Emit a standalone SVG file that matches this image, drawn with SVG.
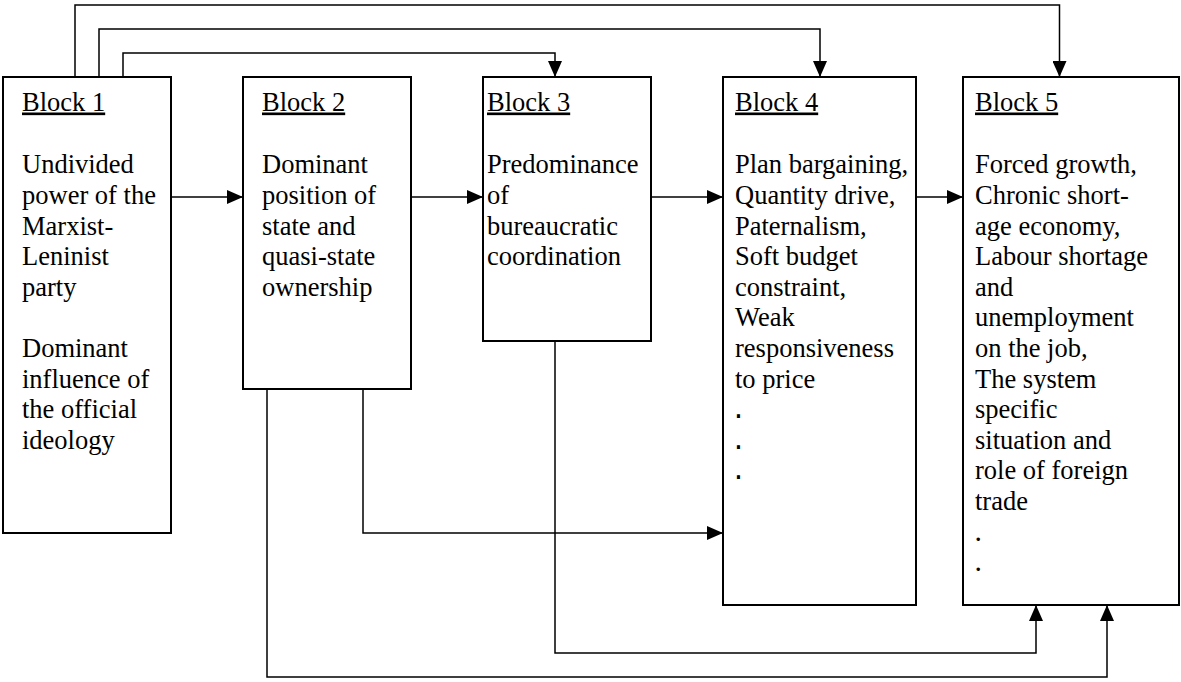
<svg xmlns="http://www.w3.org/2000/svg" width="1181" height="682" viewBox="0 0 1181 682">
<style>
.box{fill:#fff;stroke:#000;stroke-width:2}
.h{text-decoration:underline}
.c{fill:none;stroke:#000;stroke-width:1.5;marker-end:url(#ah)}
</style>
<defs>
<marker id="ah" markerUnits="userSpaceOnUse" markerWidth="16" markerHeight="14" refX="16" refY="7" orient="auto">
<path d="M0,0 L16,7 L0,14 z" fill="#000"/>
</marker>
</defs>
<rect width="1181" height="682" fill="#fff"/>
<g id="connectors">
<path class="c" d="M75,77 V5 H1059.5 V77"/>
<path class="c" d="M99,77 V29 H820 V77"/>
<path class="c" d="M123,77 V53 H555 V77"/>
<path class="c" d="M171,197 H243"/>
<path class="c" d="M411,197 H483"/>
<path class="c" d="M651,197 H723"/>
<path class="c" d="M916,197 H963"/>
<path class="c" d="M363,389 V533 H723"/>
<path class="c" d="M555,341 V653 H1036 V605"/>
<path class="c" d="M267,389 V677 H1107 V605"/>
</g>
<g id="block1" font-family="Liberation Serif" font-size="26.5" fill="#000">
<rect class="box" x="3" y="77" width="168" height="456"/>
<text class="h" x="22" y="110.5">Block 1</text>
<text x="22" y="173.3">Undivided</text>
<text x="22" y="203.9">power of the</text>
<text x="22" y="234.5">Marxist-</text>
<text x="22" y="265.1">Leninist</text>
<text x="22" y="295.7">party</text>
<text x="22" y="356.9">Dominant</text>
<text x="22" y="387.5">influence of</text>
<text x="22" y="418.1">the official</text>
<text x="22" y="448.7">ideology</text>
</g>
<g id="block2" font-family="Times New Roman" font-size="26.5" fill="#000">
<rect class="box" x="243" y="77" width="168" height="312"/>
<text class="h" x="262" y="110.5">Block 2</text>
<text x="262" y="173.3">Dominant</text>
<text x="262" y="203.9">position of</text>
<text x="262" y="234.5">state and</text>
<text x="262" y="265.1">quasi-state</text>
<text x="262" y="295.7">ownership</text>
</g>
<g id="block3" font-family="Times New Roman" font-size="26.5" fill="#000">
<rect class="box" x="483" y="77" width="168" height="264"/>
<text class="h" x="487" y="110.5">Block 3</text>
<text x="487" y="173.3">Predominance</text>
<text x="487" y="203.9">of</text>
<text x="487" y="234.5">bureaucratic</text>
<text x="487" y="265.1">coordination</text>
</g>
<g id="block4" font-family="serif" font-size="26.5" fill="#000">
<rect class="box" x="723" y="77" width="193" height="528"/>
<text class="h" x="735" y="110.5">Block 4</text>
<text x="735" y="173.3">Plan bargaining,</text>
<text x="735" y="203.9">Quantity drive,</text>
<text x="735" y="234.5">Paternalism,</text>
<text x="735" y="265.1">Soft budget</text>
<text x="735" y="295.7">constraint,</text>
<text x="735" y="326.3">Weak</text>
<text x="735" y="356.9">responsiveness</text>
<text x="735" y="387.5">to price</text>
<g font-family="Liberation Mono">
<text x="730.5" y="418.1">.</text>
<text x="730.5" y="448.7">.</text>
<text x="730.5" y="479.3">.</text>
</g>
</g>
<g id="block5" font-family="Liberation Serif" font-size="26.5" fill="#000">
<rect class="box" x="963" y="77" width="216" height="528"/>
<text class="h" x="975" y="110.5">Block 5</text>
<text x="975" y="173.3">Forced growth,</text>
<text x="975" y="203.9">Chronic short-</text>
<text x="975" y="234.5">age economy,</text>
<text x="975" y="265.1">Labour shortage</text>
<text x="975" y="295.7">and</text>
<text x="975" y="326.3">unemployment</text>
<text x="975" y="356.9">on the job,</text>
<text x="975" y="387.5">The system</text>
<text x="975" y="418.1">specific</text>
<text x="975" y="448.7">situation and</text>
<text x="975" y="479.3">role of foreign</text>
<text x="975" y="509.9">trade</text>
<g font-family="DejaVu Serif">
<text x="974" y="540.5">.</text>
<text x="974" y="571.1">.</text>
</g>
</g>
</svg>
